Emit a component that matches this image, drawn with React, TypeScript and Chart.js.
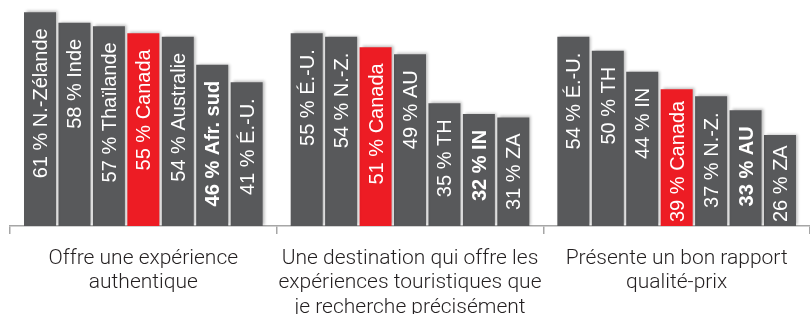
import React, { useEffect, useRef } from "react";
import { Chart, registerables } from "chart.js";

Chart.register(...registerables);

const categories: string[][] = [
  ["Offre une expérience", "authentique"],
  ["Une destination qui offre les", "expériences touristiques que", "je recherche précisément"],
  ["Présente un bon rapport", "qualité-prix"],
];

const group1Values = [61, 58, 57, 55, 54, 46, 41];
const group1Names = ["N.-Zélande", "Inde", "Thaïlande", "Canada", "Australie", "Afr. sud", "É.-U."];
const group2Values = [55, 54, 51, 49, 35, 32, 31];
const group2Names = ["É.-U.", "N.-Z.", "Canada", "AU", "TH", "IN", "ZA"];
const group3Values = [54, 50, 44, 39, 37, 33, 26];
const group3Names = ["É.-U.", "TH", "IN", "Canada", "N.-Z.", "AU", "ZA"];
const boldNames = ["Afr. sud", "IN", "AU"];

const groupValues = [group1Values, group2Values, group3Values];
const groupNames = [group1Names, group2Names, group3Names];

const GRAY = "#58595b";
const RED = "#ed1c24";

export default function App() {
  const ref = useRef<HTMLCanvasElement | null>(null);

  useEffect(() => {
    const canvas = ref.current;
    if (!canvas) return;

    const datasets = group1Values.map((_, rank) => ({
      label: "rang " + (rank + 1),
      data: groupValues.map((g) => g[rank]),
      backgroundColor: groupNames.map((g) => (g[rank] === "Canada" ? RED : GRAY)),
      borderWidth: 0,
      categoryPercentage: 0.904,
      barPercentage: 0.93,
    }));

    const shadowPlugin = {
      id: "barShadow",
      beforeDatasetsDraw(chart: any) {
        const ctx = chart.ctx;
        ctx.save();
        ctx.shadowColor = "rgba(0,0,0,0.28)";
        ctx.shadowBlur = 3;
        ctx.shadowOffsetX = 2;
        ctx.shadowOffsetY = -1;
      },
      afterDatasetsDraw(chart: any) {
        chart.ctx.restore();
      },
    };

    const labelPlugin = {
      id: "barLabels",
      afterDatasetsDraw(chart: any) {
        const ctx = chart.ctx;
        const base = chart.scales.y.getPixelForValue(0);
        chart.data.datasets.forEach((_ds: any, di: number) => {
          const meta = chart.getDatasetMeta(di);
          meta.data.forEach((bar: any, gi: number) => {
            const name = groupNames[gi][di];
            const value = groupValues[gi][di];
            const text = `${value} % ${name}`;
            const bold = boldNames[gi] === name;
            ctx.save();
            ctx.font = `${bold ? "bold " : ""}20px 'Liberation Sans', Arial, sans-serif`;
            const w = ctx.measureText(text).width;
            let end = bar.y + 16;
            if (end + w > base - 4) end = base - 4 - w;
            ctx.translate(bar.x, end);
            ctx.rotate(-Math.PI / 2);
            ctx.textAlign = "right";
            ctx.textBaseline = "alphabetic";
            ctx.fillStyle = "#ffffff";
            ctx.fillText(text, 0, 7);
            ctx.restore();
          });
        });
      },
    };

    const chart = new Chart(canvas, {
      type: "bar",
      data: { labels: categories, datasets },
      options: {
        responsive: false,
        animation: false,
        layout: { padding: { left: 10, right: 0, top: 0, bottom: 0 } },
        plugins: { legend: { display: false }, tooltip: { enabled: false } },
        scales: {
          x: {
            grid: {
              display: true,
              drawOnChartArea: false,
              drawTicks: true,
              tickLength: 8,
              color: "#a6a6a6",
              lineWidth: 1.5,
              offset: true,
            },
            border: { display: true, color: "#a6a6a6", width: 1.5 },
            ticks: {
              color: "#231f20",
              padding: 12,
              maxRotation: 0,
              autoSkip: false,
              font: {
                family: "Roboto, 'Liberation Sans', Arial, sans-serif",
                size: 21,
                weight: "300",
                lineHeight: 1.167,
              },
            },
            afterFit: (scale: any) => {
              scale.height = 88;
            },
          },
          y: {
            display: false,
            min: 0,
            max: 64.5,
          },
        },
      },
      plugins: [shadowPlugin, labelPlugin],
    });

    return () => chart.destroy();
  }, []);

  return (
    <div style={{ position: "fixed", left: 0, top: 0, width: 810, height: 314, background: "#fff" }}>
      <canvas ref={ref} width={810} height={314} style={{ display: "block" }} />
    </div>
  );
}
